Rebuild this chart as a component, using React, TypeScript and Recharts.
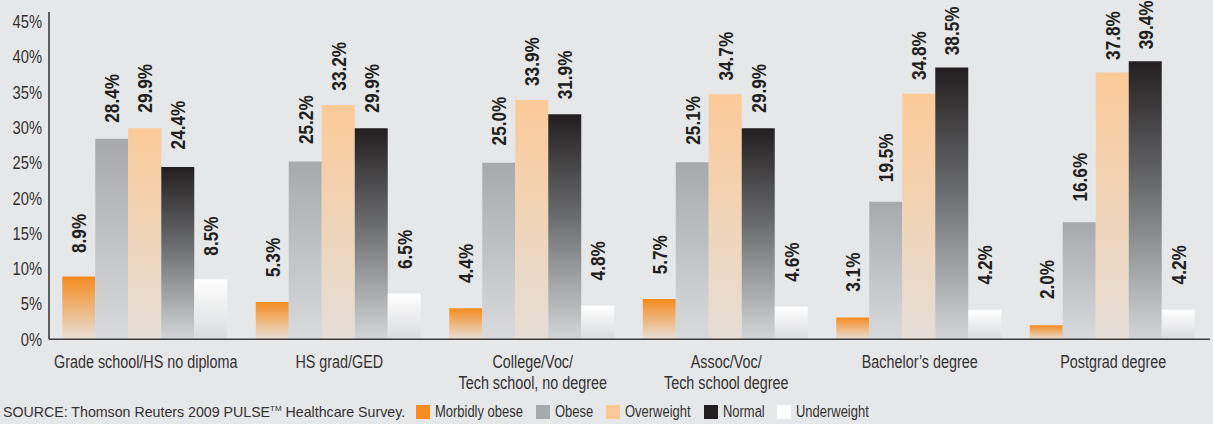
import { BarChart, Bar, XAxis, YAxis, LabelList } from 'recharts';

const categories = [
  'Grade school/HS no diploma',
  'HS grad/GED',
  'College/Voc/\nTech school, no degree',
  'Assoc/Voc/\nTech school degree',
  'Bachelor\u2019s degree',
  'Postgrad degree',
];
const morbidlyObese = [8.9, 5.3, 4.4, 5.7, 3.1, 2.0];
const obese = [28.4, 25.2, 25.0, 25.1, 19.5, 16.6];
const overweight = [29.9, 33.2, 33.9, 34.7, 34.8, 37.8];
const normal = [24.4, 29.9, 31.9, 29.9, 38.5, 39.4];
const underweight = [8.5, 6.5, 4.8, 4.6, 4.2, 4.2];
const yTicks = [0, 5, 10, 15, 20, 25, 30, 35, 40, 45];

const SERIES = [
  { key: 'morbid', name: 'Morbidly obese', swatch: '#f68b1f', stops: [[0, '#f68b1f'], [1, '#e7dfd7']] },
  { key: 'obese', name: 'Obese', swatch: '#a7a9ac', stops: [[0, '#a7a9ac'], [1, '#d9dadc']] },
  { key: 'over', name: 'Overweight', swatch: '#fbc995', stops: [[0, '#fbca98'], [1, '#e5ded7']] },
  { key: 'normal', name: 'Normal', swatch: '#231f20', stops: [[0, '#231f20'], [0.45, '#6a6b6d'], [1, '#d4d5d7']] },
  { key: 'under', name: 'Underweight', swatch: '#ffffff', stops: [[0, '#ffffff'], [1, '#dadbdd']] },
] as const;

const data = categories.map((c, i) => ({
  category: c,
  morbid: morbidlyObese[i],
  obese: obese[i],
  over: overweight[i],
  normal: normal[i],
  under: underweight[i],
}));

// no condensed face installed, so squeeze Liberation Sans horizontally
const FONT = '"Liberation Sans", Arial, sans-serif';
const SQUEEZE = 0.82;
const TEXT = '#333132';

let ctx: CanvasRenderingContext2D | null = null;
function textWidth(text: string, font: string) {
  if (!ctx) ctx = document.createElement('canvas').getContext('2d');
  if (!ctx) return text.length * 8;
  ctx.font = font;
  return ctx.measureText(text).width;
}

function YTick({ x, y, payload }: any) {
  return (
    <text
      transform={`translate(${x},${y}) scale(${SQUEEZE},1)`}
      textAnchor="end"
      dy="0.355em"
      fill={TEXT}
      fontSize={18}
      fontFamily={FONT}
    >
      {payload.value}%
    </text>
  );
}

function CategoryTick({ x, y, payload }: any) {
  const lines = String(payload.value).split('\n');
  return (
    <text
      transform={`translate(${x},${y + 27}) scale(${SQUEEZE},1)`}
      textAnchor="middle"
      fill={TEXT}
      fontSize={17.5}
      fontFamily={FONT}
    >
      {lines.map((l, i) => (
        <tspan key={i} x={0} dy={i === 0 ? 0 : 20.5}>{l}</tspan>
      ))}
    </text>
  );
}

function ValueLabel(props: any) {
  const { x, y, width, value } = props;
  const cx = Number(x) + Number(width) / 2;
  const top = Number(y);
  const gap = 8.7 + 0.0535 * top;
  const ax = cx + 7.5;
  const ay = top - gap;
  return (
    <text
      transform={`translate(${ax},${ay}) rotate(-90) scale(${SQUEEZE},1)`}
      textAnchor="start"
      fontSize={21}
      fontWeight="bold"
      fill="#231f20"
      fontFamily={FONT}
    >
      {Number(value).toFixed(1)}%
    </text>
  );
}

function Squeezed({ text, size }: { text: string; size: number }) {
  const w = textWidth(text, `${size}px "Liberation Sans"`) * SQUEEZE;
  return (
    <span style={{ display: 'inline-block', width: w, whiteSpace: 'nowrap' }}>
      <span
        style={{
          display: 'inline-block',
          transform: `scaleX(${SQUEEZE})`,
          transformOrigin: 'left center',
          fontFamily: FONT,
          fontSize: size,
        }}
      >
        {text}
      </span>
    </span>
  );
}

export default function App() {
  return (
    <div style={{ position: 'absolute', left: 0, top: 0, width: 1213, height: 424, background: '#e6e7e8', overflow: 'hidden' }}>
      <BarChart
        width={1213}
        height={424}
        data={data}
        margin={{ top: 12, right: 3, bottom: 34.7, left: 0 }}
        barCategoryGap={13.25}
        barGap={0}
      >
        <defs>
          {SERIES.map((s) => (
            <linearGradient key={s.key} id={`grad-${s.key}`} x1="0" y1="0" x2="0" y2="1">
              {s.stops.map(([o, c], i) => (
                <stop key={i} offset={o} stopColor={c} />
              ))}
            </linearGradient>
          ))}
        </defs>
        <XAxis
          dataKey="category"
          height={50}
          interval={0}
          tickLine={false}
          tickSize={0}
          axisLine={{ stroke: '#3d3b3c', strokeWidth: 1.6 }}
          tick={<CategoryTick />}
        />
        <YAxis
          width={49}
          domain={[0, 46.37]}
          ticks={yTicks}
          tickLine={false}
          tickSize={0}
          tickMargin={7}
          axisLine={{ stroke: '#3d3b3c', strokeWidth: 1.6 }}
          tick={<YTick />}
        />
        {SERIES.map((s) => (
          <Bar key={s.key} dataKey={s.key} name={s.name} fill={`url(#grad-${s.key})`} isAnimationActive={false}>
            <LabelList dataKey={s.key} content={<ValueLabel />} />
          </Bar>
        ))}
      </BarChart>
      <div
        style={{
          position: 'absolute',
          left: 3,
          top: 403,
          display: 'flex',
          alignItems: 'center',
          whiteSpace: 'nowrap',
          color: TEXT,
        }}
      >
        <span style={{ fontFamily: FONT, fontSize: 14.2, marginRight: 11 }}>
          SOURCE: Thomson Reuters 2009 PULSE<sup style={{ fontSize: 8 }}>TM</sup> Healthcare Survey.
        </span>
        {SERIES.map((s) => (
          <span key={s.key} style={{ display: 'flex', alignItems: 'center', marginRight: 13 }}>
            <span style={{ display: 'inline-block', width: 14, height: 14, background: s.swatch, marginRight: 5 }} />
            <Squeezed text={s.name} size={15.8} />
          </span>
        ))}
      </div>
    </div>
  );
}
